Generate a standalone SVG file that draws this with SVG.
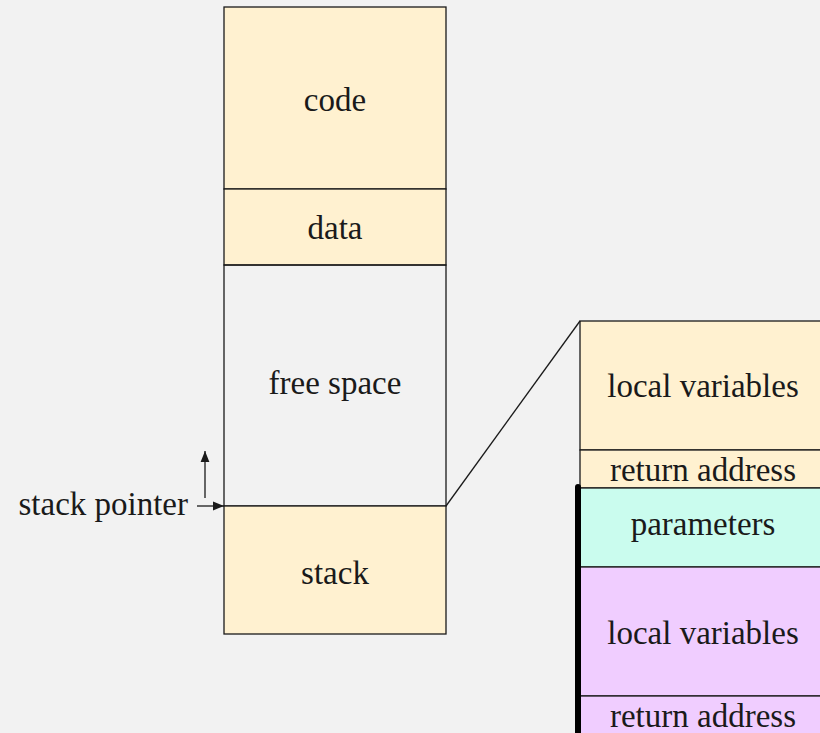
<svg xmlns="http://www.w3.org/2000/svg" width="820" height="733" viewBox="0 0 820 733">
<style>
.box{stroke:#1a1a1a;stroke-width:1.3}
.y{fill:#fff1d0}
.c{fill:#cafcee}
.p{fill:#f0cdff}
.n{fill:none}
text{font-family:"Liberation Serif","DejaVu Serif",serif;font-size:33px;fill:#1a1a1a;text-anchor:middle}
.ln{stroke:#1a1a1a;stroke-width:1.3;fill:none}
</style>
<defs>
<marker id="ah" viewBox="0 0 10 10" refX="10" refY="5" markerWidth="11" markerHeight="11" markerUnits="userSpaceOnUse" orient="auto">
<path d="M0,1 L10,5 L0,9 Z" fill="#1a1a1a"/>
</marker>
</defs>
<rect width="820" height="733" fill="#f2f2f2"/>
<g id="code"><rect class="box y" x="224" y="7" width="222" height="182"/><text x="335" y="111">code</text></g>
<g id="data"><rect class="box y" x="224" y="189" width="222" height="76"/><text x="335" y="239">data</text></g>
<g id="free"><rect class="box n" x="224" y="265" width="222" height="241"/><text x="335" y="394">free space</text></g>
<g id="stack"><rect class="box y" x="224" y="506" width="222" height="128"/><text x="335" y="584">stack</text></g>
<g id="lv1"><rect class="box y" x="580" y="321" width="245" height="129"/><text x="703" y="397">local variables</text></g>
<g id="ra1"><rect class="box y" x="580" y="450" width="245" height="38"/><text x="703" y="481">return address</text></g>
<g id="par"><rect class="box c" x="580" y="488" width="245" height="79"/><text x="703" y="535">parameters</text></g>
<g id="lv2"><rect class="box p" x="580" y="567" width="245" height="129"/><text x="703" y="644">local variables</text></g>
<g id="ra2"><rect class="box p" x="580" y="696" width="245" height="45"/><text x="703" y="727">return address</text></g>
<g id="sp"><text x="188" y="515" style="text-anchor:end">stack pointer</text></g>
<g id="connectors">
<line class="ln" x1="446" y1="506" x2="580" y2="321"/>
<line class="ln" x1="197" y1="506" x2="224" y2="506" marker-end="url(#ah)"/>
<line class="ln" x1="205" y1="498" x2="205" y2="451" marker-end="url(#ah)"/>
<line x1="578" y1="487" x2="578" y2="740" stroke="#000" stroke-width="6" stroke-linecap="round"/>
</g>
</svg>
